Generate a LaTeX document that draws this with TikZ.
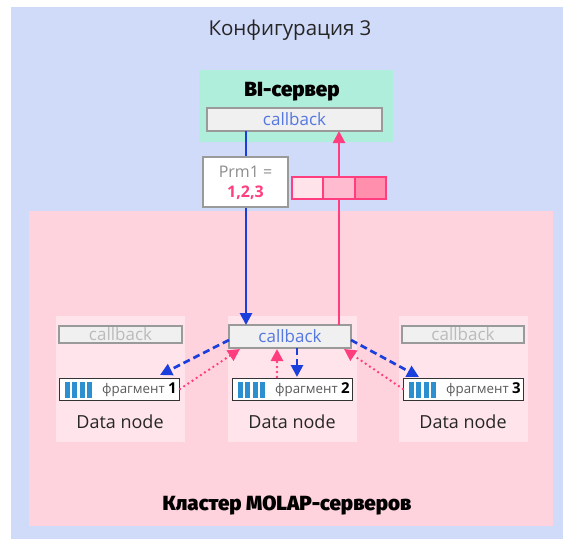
\documentclass[tikz,border=0pt]{standalone}
\usepackage{fontspec}
\setmainfont{Open Sans}
\newfontfamily\heavyfont{Fira Sans}[UprightFont={* Black}]
\usetikzlibrary{arrows.meta,calc}
\definecolor{bgblue}{HTML}{D0DBFA}
\definecolor{clpink}{HTML}{FFD3DE}
\definecolor{dnpink}{HTML}{FFE5EB}
\definecolor{bigreen}{HTML}{B0EEDC}
\definecolor{cbfill}{HTML}{F0F0F0}
\definecolor{cbdraw}{HTML}{9A9A9A}
\definecolor{arblue}{HTML}{1A3FDC}
\definecolor{arpink}{HTML}{FF3D7F}
\definecolor{cbtext}{HTML}{5577E0}
\definecolor{greytext}{HTML}{BBBBBB}
\definecolor{fragbar}{HTML}{2B8FD0}
\definecolor{cellA}{HTML}{FFE3EB}
\definecolor{cellB}{HTML}{FFBBCF}
\definecolor{cellC}{HTML}{FF8FAD}
\tikzset{
  box/.style={rectangle, inner sep=0pt, outer sep=0pt},
  cbbox/.style={box, fill=cbfill, draw=cbdraw, line width=1.2pt, font=\fontsize{17}{17}\selectfont},
  fragbox/.style={box, fill=white, draw=black!80, line width=1pt, minimum width=120pt, minimum height=22pt},
  cell/.style={box, draw=arpink, line width=2pt, minimum width=31.3pt, minimum height=22pt},
  blueline/.style={draw=arblue, line width=2.7pt, -{Triangle[width=12pt,length=12pt]}},
  pinkline/.style={draw=arpink, line width=2.4pt, -{Triangle[width=12pt,length=12pt]}},
  bluedash/.style={draw=arblue, line width=2.7pt, dash pattern=on 7pt off 4pt, -{Triangle[width=12pt,length=12pt]}},
  pinkdot/.style={draw=arpink, line width=2.7pt, line cap=round, dash pattern=on 0pt off 5pt, -{Triangle[width=12pt,length=12pt]}},
  dnlabel/.style={font=\fontsize{18}{18}\selectfont, text=black!85},
  heavy/.style={font=\heavyfont\fontsize{20.5}{20.5}\selectfont},
}
\begin{document}
\begin{tikzpicture}[x=1pt,y=-1pt]
\useasboundingbox (0,0) rectangle (563,539);
\fill[bgblue] (11,7) rectangle (563,539);
\node[dnlabel, font=\fontsize{20.5}{20.5}\selectfont] (title) at (290,30) {Конфигурация 3};

% cluster
\node[box, fill=clpink, minimum width=524pt, minimum height=315pt] (cluster) at (291,368.5) {};
\node[heavy] (cltitle) at (287,505) {Кластер MOLAP-серверов};

% BI server
\node[box, fill=bigreen, minimum width=194pt, minimum height=72pt] (bi) at (296,106) {};
\node[heavy] (bititle) at (292,92) {BI-сервер};
\node[cbbox, minimum width=175pt, minimum height=23pt, text=cbtext] (bicb) at (294.5,119.5) {callback};

% data nodes
\foreach \i/\cx in {1/120,2/292,3/463}{
  \node[box, fill=dnpink, minimum width=129pt, minimum height=126pt] (dn\i) at (\cx,379) {};
  \node[dnlabel] (dl\i) at (\cx,422) {Data node};
}
\node[cbbox, minimum width=123pt, minimum height=17pt, text=greytext] (cb1) at (120.5,334.5) {callback};
\node[cbbox, minimum width=122pt, minimum height=23pt, text=cbtext] (cb2) at (290,336.5) {callback};
\node[cbbox, minimum width=122pt, minimum height=17pt, text=greytext] (cb3) at (463,334.5) {callback};

\foreach \i/\cx in {1/119,2/292,3/463}{
  \node[fragbox] (f\i) at (\cx,389.5) {};
  \foreach \k in {0,1,2,3}{
    \fill[fragbar] ($(f\i.west)+(6+7.3*\k,-8)$) rectangle ++(5,16);
  }
  \node[anchor=east, inner sep=2pt, font=\fontsize{13.3}{13.3}\selectfont, text=black!65] (ft\i) at (f\i.east) {фрагмент \textcolor{black}{\fontsize{15}{15}\selectfont\bfseries \i}};
}

% Prm box and bar
\coordinate (bout) at (246,131);
\coordinate (bin) at (246,325);
\draw[blueline] (bout) -- (bin);
\coordinate (pout) at (339,325);
\coordinate (pin) at (339,131);
\draw[pinkline] (pout) -- (pin);
\node[box, fill=white, draw=cbdraw, line width=1.2pt, minimum width=85pt, minimum height=50pt] (prm) at (245.5,182) {};
\node[font=\fontsize{16}{16}\selectfont, text=black!45, inner sep=0pt] (prmA) at (245.5,172) {Prm1 =};
\node[font=\fontsize{16}{16}\selectfont\bfseries, text=arpink, inner sep=0pt] (prmB) at (245.5,193) {1,2,3};
\node[cell, fill=cellA] (c1) at (307.7,188) {};
\node[cell, fill=cellB] (c2) at (339,188) {};
\node[cell, fill=cellC] (c3) at (370.3,188) {};

% arrows in cluster
\coordinate (d1s) at (229,340);
\coordinate (d1e) at (160,375);
\draw[bluedash] (d1s) -- (d1e);
\coordinate (d2s) at (297,348);
\coordinate (d2e) at (297,377);
\draw[bluedash] (d2s) -- (d2e);
\coordinate (d3s) at (351,340);
\coordinate (d3e) at (419,377);
\draw[bluedash] (d3s) -- (d3e);

\coordinate (p1s) at (180,389);
\coordinate (p1e) at (240,349);
\draw[pinkdot] (p1s) -- (p1e);
\coordinate (p2s) at (277,377);
\coordinate (p2e) at (277,349);
\draw[pinkdot] (p2s) -- (p2e);
\coordinate (p3s) at (403,389);
\coordinate (p3e) at (344,349);
\draw[pinkdot] (p3s) -- (p3e);
\end{tikzpicture}
\end{document}
